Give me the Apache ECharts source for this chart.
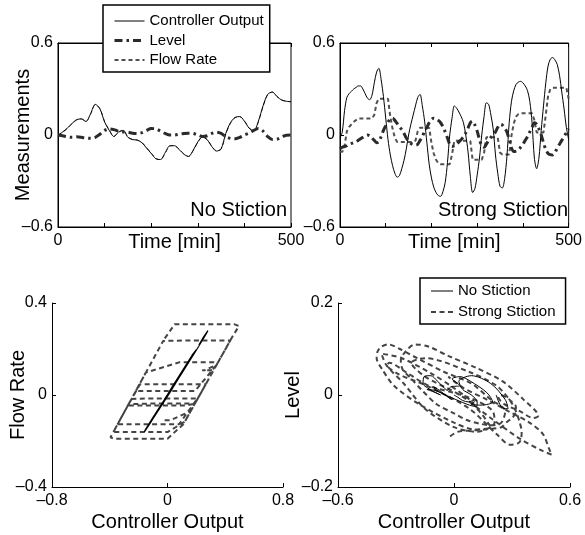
<!DOCTYPE html>
<html><head><meta charset="utf-8">
<script src="https://cdn.jsdelivr.net/npm/echarts@6/dist/echarts.min.js"></script>
<style>html,body{margin:0;padding:0;background:#fff}#c{width:585px;height:535px}</style>
</head><body><div id="c"></div>
<script>
// ---- No stiction, sampled every 10 min ----
const timeNo = [0,10,20,30,40,50,60,70,80,90,100,110,120,130,140,150,160,170,180,190,200,210,220,230,240,250,260,270,280,290,300,310,320,330,340,350,360,370,380,390,400,410,420,430,440,450,460,470,480,490,500];
const coNo = [0.0,0.02,0.045,0.075,0.10,0.105,0.088,0.14,0.20,0.17,
  0.085,0.03,-0.01,0.02,0.03,-0.015,-0.03,-0.033,-0.05,-0.085,
  -0.12,-0.155,-0.16,-0.115,-0.07,-0.07,-0.095,-0.125,-0.14,-0.10,
  -0.045,-0.012,-0.03,-0.075,-0.105,-0.09,0.01,0.08,0.115,0.12,
  0.09,0.045,0.025,0.09,0.19,0.265,0.28,0.25,0.228,0.22,0.217];
const flowNo = [-0.003,0.017,0.042,0.072,0.097,0.105,0.09,0.135,0.197,0.173,
  0.088,0.033,-0.009,0.017,0.03,-0.012,-0.029,-0.033,-0.048,-0.082,
  -0.117,-0.152,-0.161,-0.118,-0.072,-0.069,-0.092,-0.122,-0.14,-0.103,
  -0.048,-0.014,-0.029,-0.072,-0.102,-0.093,0.004,0.075,0.112,0.12,
  0.093,0.048,0.025,0.085,0.185,0.262,0.28,0.253,0.229,0.22,0.217];
const levelNo = [0.0,-0.005,-0.012,-0.015,-0.012,-0.015,-0.02,-0.022,-0.015,0.005,
  0.03,0.04,0.035,0.025,0.02,0.018,0.012,0.01,0.015,0.03,
  0.042,0.04,0.025,0.01,0.0,0.0,0.005,0.01,0.012,0.01,
  0.0,-0.01,-0.005,0.01,0.018,0.01,-0.01,-0.022,-0.025,-0.015,
  0.0,0.012,0.03,0.042,0.025,-0.01,-0.03,-0.028,-0.012,-0.002,0.0];

// ---- Strong stiction, sampled every 5 min ----
const timeSt = [0,5,10,15,20,25,30,35,40,45,50,55,60,65,70,75,80,85,90,95,
  100,105,110,115,120,125,130,135,140,145,150,155,160,165,170,175,180,185,190,195,
  200,205,210,215,220,225,230,235,240,245,250,255,260,265,270,275,280,285,290,295,
  300,305,310,315,320,325,330,335,340,345,350,355,360,365,370,375,380,385,390,395,
  400,405,410,415,420,425,430,435,440,445,450,455,460,465,470,475,480,485,490,495,500];
const coSt = [-0.02,0.02,0.16,0.245,0.27,0.285,0.30,0.31,0.32,0.32,
  0.30,0.27,0.24,0.23,0.26,0.34,0.41,0.435,0.36,0.25,
  0.11,-0.03,-0.13,-0.20,-0.25,-0.275,-0.265,-0.22,-0.165,-0.09,
  0.0,0.07,0.13,0.19,0.245,0.265,0.19,0.09,-0.05,-0.19,
  -0.28,-0.34,-0.375,-0.395,-0.40,-0.37,-0.31,-0.18,0.0,0.11,
  0.19,0.175,0.15,0.12,0.08,0.0,-0.11,-0.27,-0.375,-0.35,
  -0.26,-0.15,0.0,0.12,0.21,0.20,0.13,0.04,-0.13,-0.25,
  -0.335,-0.345,-0.285,-0.14,0.08,0.22,0.29,0.33,0.345,0.35,
  0.34,0.32,0.29,0.22,0.08,-0.15,-0.22,-0.15,0.03,0.19,
  0.34,0.45,0.495,0.505,0.49,0.46,0.39,0.28,0.17,0.05,-0.03];
const flowSt = [-0.11,-0.11,-0.07,0.024,0.052,0.069,0.086,0.097,0.108,0.108,
  0.108,0.108,0.108,0.108,0.108,0.131,0.209,0.237,0.237,0.237,
  0.237,0.235,0.12,0.04,-0.018,-0.046,-0.046,-0.046,-0.046,-0.046,
  -0.046,-0.046,-0.046,-0.037,0.024,0.047,0.047,0.047,0.047,0.047,
  -0.052,-0.121,-0.161,-0.184,-0.19,-0.19,-0.19,-0.19,-0.19,-0.127,
  -0.037,-0.037,-0.037,-0.037,-0.037,-0.037,-0.037,-0.04,-0.161,-0.161,
  -0.161,-0.161,-0.161,-0.116,-0.015,-0.015,-0.015,-0.015,-0.015,-0.0175,
  -0.115,-0.127,-0.127,-0.127,-0.127,-0.004,0.075,0.12,0.136,0.142,
  0.142,0.142,0.142,0.142,0.142,0.0975,0.017,0.017,0.017,0.017,
  0.131,0.254,0.30,0.308,0.308,0.308,0.308,0.308,0.308,0.308,0.236];
const levelSt = [-0.09,-0.08,-0.075,-0.07,-0.06,-0.055,-0.05,-0.045,-0.035,-0.025,
  -0.015,-0.005,0.0,-0.005,-0.02,-0.035,-0.05,-0.045,-0.01,0.03,
  0.06,0.085,0.105,0.11,0.095,0.075,0.055,0.035,0.01,-0.02,
  -0.04,-0.055,-0.062,-0.066,-0.06,-0.035,-0.01,0.025,0.05,0.08,
  0.10,0.11,0.105,0.095,0.08,0.055,0.02,-0.02,-0.06,-0.075,
  -0.07,-0.06,-0.045,-0.03,-0.01,0.015,0.045,0.08,0.09,0.065,
  0.025,-0.03,-0.07,-0.08,-0.06,-0.035,-0.015,0.0,0.02,0.05,
  0.07,0.065,0.045,0.02,-0.03,-0.085,-0.108,-0.105,-0.098,-0.08,
  -0.06,-0.035,-0.012,0.02,0.05,0.08,0.07,0.04,0.0,-0.05,
  -0.095,-0.12,-0.128,-0.13,-0.115,-0.085,-0.06,-0.035,-0.01,0.015,0.04];

// ---- tick labels ----
const timeTickLabels = [0, 500];
const measTickLabels = [-0.6, 0, 0.6];
const coTickLabelsBL = [-0.8, 0, 0.8];
const flowTickLabels = [-0.4, 0, 0.4];
const coTickLabelsBR = [-0.6, 0, 0.6];
const levelTickLabels = [-0.2, 0, 0.2];

const FONT = "'Liberation Sans', Arial, Helvetica, sans-serif";
const fmtNum = v => {
  const r = Math.round(v * 1000) / 1000;
  if (r === 0) return '0';
  return (r < 0 ? '\u2013' : '') + String(Math.abs(r));
};
const labelFrom = list => v => list.some(x => Math.abs(x - v) < 1e-9) ? fmtNum(v) : '';
const pairs = (xs, ys) => xs.map((x, i) => [x, ys[i]]);

const chart = echarts.init(document.getElementById('c'), null, {renderer: 'canvas'});

function xAx(grid, min, max, interval, labels, name, nameGap, pos, showLabel) {
  return {
    type: 'value', gridIndex: grid, min: min, max: max, interval: interval,
    position: pos || 'bottom',
    axisLine: {show: true, onZero: false, lineStyle: {color: '#000', width: 1}},
    axisTick: {show: true, inside: true, length: 4, lineStyle: {color: '#000'}},
    splitLine: {show: false},
    axisLabel: {show: showLabel !== false, formatter: labelFrom(labels), margin: 6, fontSize: 16, color: '#000', fontFamily: FONT, showMinLabel: true, showMaxLabel: true},
    name: name || '', nameLocation: 'middle', nameGap: nameGap || 0, nameMoveOverlap: false,
    nameTextStyle: {fontSize: 20, color: '#000', fontFamily: FONT}
  };
}
function yAx(grid, min, max, interval, labels, name, nameGap) {
  return {
    type: 'value', gridIndex: grid, min: min, max: max, interval: interval,
    axisLine: {show: true, onZero: false, lineStyle: {color: '#000', width: 1}},
    axisTick: {show: true, inside: true, length: 4, lineStyle: {color: '#000'}},
    splitLine: {show: false},
    axisLabel: {formatter: labelFrom(labels), margin: 5, fontSize: 16, color: '#000', fontFamily: FONT, showMinLabel: true, showMaxLabel: true},
    name: name || '', nameLocation: 'middle', nameGap: nameGap || 0, nameMoveOverlap: false,
    nameTextStyle: {fontSize: 20, color: '#000', fontFamily: FONT}
  };
}

const solidStyle = {color: '#000', width: 1, type: 'solid'};
const dashDotStyle = {color: '#2a2a2a', width: 3, type: [8, 4, 2.5, 4]};
const dashStyle = {color: '#505050', width: 2, type: [4, 3]};
const dashStyleThin = {color: '#505050', width: 1, type: [4, 3]};
const phaseDash = {color: '#444', width: 2, type: [5, 3.5]};
const phaseSolidBL = {color: '#000', width: 1.2, type: 'solid'};
const phaseSolidBR = {color: '#000', width: 1, type: 'solid'};

function ln(name, xi, yi, data, style, smooth, z) {
  return {
    name: name, type: 'line', xAxisIndex: xi, yAxisIndex: yi, data: data,
    symbol: 'none', showSymbol: false, smooth: smooth, lineStyle: style,
    itemStyle: {color: style.color}, color: style.color, z: z, silent: true, animation: false
  };
}
function legItem(name, style) {
  return {name: name, itemStyle: {opacity: 0}, lineStyle: Object.assign({opacity: 1}, style)};
}

const option = {
  backgroundColor: '#fff',
  animation: false,
  grid: [
    {left: 58, top: 43, width: 233, height: 184, show: true, borderColor: '#000', borderWidth: 1, backgroundColor: 'transparent'},
    {left: 340, top: 43, width: 233, height: 184, show: true, borderColor: '#000', borderWidth: 1, backgroundColor: 'transparent'},
    {left: 52, top: 303, width: 231, height: 184},
    {left: 338, top: 303, width: 232, height: 184}
  ],
  xAxis: [
    xAx(0, 0, 500, 100, timeTickLabels, 'Time [min]', 5),
    xAx(0, 0, 500, 100, timeTickLabels, '', 0, 'top', false),
    xAx(1, 0, 500, 100, timeTickLabels, 'Time [min]', 5),
    xAx(1, 0, 500, 100, timeTickLabels, '', 0, 'top', false),
    xAx(2, -0.8, 0.8, 0.8, coTickLabelsBL, 'Controller Output', 25),
    xAx(3, -0.6, 0.6, 0.6, coTickLabelsBR, 'Controller Output', 25)
  ],
  yAxis: [
    yAx(0, -0.6, 0.6, 0.6, measTickLabels, 'Measurements', 25),
    yAx(1, -0.6, 0.6, 0.6, measTickLabels, '', 0),
    yAx(2, -0.4, 0.4, 0.4, flowTickLabels, 'Flow Rate', 24),
    yAx(3, -0.2, 0.2, 0.2, levelTickLabels, 'Level', 35)
  ],
  legend: [
    {
      data: [legItem('Controller Output', solidStyle), legItem('Level', dashDotStyle), legItem('Flow Rate', dashStyle)],
      orient: 'vertical', left: 103, top: 5,
      itemWidth: 30, itemHeight: 14, itemGap: 3.5,
      padding: [8, 6, 4, 10],
      borderColor: '#000', borderWidth: 1.5, backgroundColor: '#fff',
      selectedMode: false, z: 20,
      textStyle: {fontSize: 15, color: '#000', fontFamily: FONT, lineHeight: 16}
    },
    {
      data: [legItem('No Stiction', phaseSolidBR), legItem('Strong Stiction', phaseDash)],
      orient: 'vertical', left: 420, top: 278,
      itemWidth: 22, itemHeight: 14, itemGap: 5,
      padding: [5, 10, 4, 10],
      borderColor: '#000', borderWidth: 1.5, backgroundColor: '#fff',
      selectedMode: false, z: 20,
      textStyle: {fontSize: 15, color: '#000', fontFamily: FONT, lineHeight: 16}
    }
  ],
  graphic: [
    {type: 'text', x: 287, y: 210, z: 10, silent: true,
     style: {text: 'No Stiction', fill: '#000', fontSize: 20, fontFamily: FONT, textAlign: 'right', textVerticalAlign: 'middle', align: 'right', verticalAlign: 'middle'}},
    {type: 'text', x: 568, y: 210, z: 10, silent: true,
     style: {text: 'Strong Stiction', fill: '#000', fontSize: 20, fontFamily: FONT, textAlign: 'right', textVerticalAlign: 'middle', align: 'right', verticalAlign: 'middle'}}
  ],
  series: [
    ln('Flow Rate', 0, 0, pairs(timeNo, flowNo), dashStyleThin, 0.3, 2),
    ln('Controller Output', 0, 0, pairs(timeNo, coNo), solidStyle, 0.3, 3),
    ln('Level', 0, 0, pairs(timeNo, levelNo), dashDotStyle, 0.3, 4),

    ln('Flow Rate', 2, 1, pairs(timeSt, flowSt), dashStyle, false, 2),
    ln('Controller Output', 2, 1, pairs(timeSt, coSt), solidStyle, 0.3, 3),
    ln('Level', 2, 1, pairs(timeSt, levelSt), dashDotStyle, 0.3, 4),

    ln('Strong Stiction', 4, 2, pairs(coSt, flowSt), phaseDash, false, 2),
    ln('No Stiction', 4, 2, pairs(coNo, flowNo), phaseSolidBL, false, 3),

    ln('Strong Stiction', 5, 3, pairs(coSt, levelSt), phaseDash, 0.3, 2),
    ln('No Stiction', 5, 3, pairs(coNo, levelNo), phaseSolidBR, 0.3, 3)
  ]
};
chart.setOption(option);
</script>
</body></html>
